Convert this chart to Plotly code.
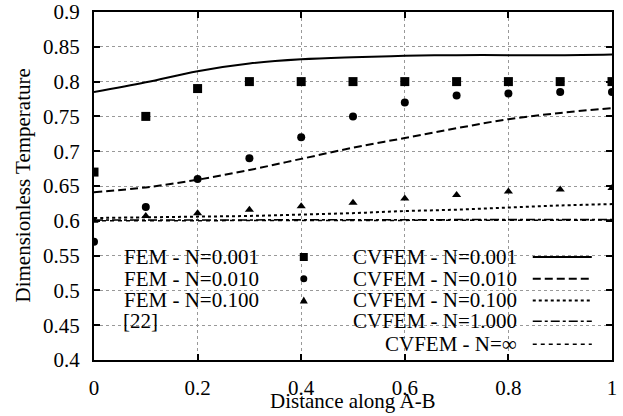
import plotly.graph_objects as go

x_fem = [0.0, 0.1, 0.2, 0.3, 0.4, 0.5, 0.6, 0.7, 0.8, 0.9, 1.0]
fem_0001 = [0.67, 0.75, 0.79, 0.80, 0.80, 0.80, 0.80, 0.80, 0.80, 0.80, 0.80]
fem_0010 = [0.57, 0.62, 0.66, 0.69, 0.72, 0.75, 0.77, 0.780, 0.783, 0.785, 0.785]
fem_0100 = [0.60, 0.607, 0.611, 0.616, 0.621, 0.626, 0.632, 0.637, 0.642, 0.645, 0.647]

x_cv = [0.0, 0.1, 0.2, 0.3, 0.4, 0.5, 0.6, 0.7, 0.8, 0.9, 1.0]
cv_0001 = [0.785, 0.799, 0.815, 0.826, 0.832, 0.835, 0.837, 0.838, 0.838, 0.838, 0.839]
cv_0010 = [0.641, 0.648, 0.659, 0.673, 0.689, 0.705, 0.719, 0.733, 0.746, 0.755, 0.762]
cv_0100 = [0.604, 0.605, 0.606, 0.607, 0.609, 0.611, 0.614, 0.616, 0.619, 0.622, 0.624]
cv_1000 = [0.601, 0.601, 0.601, 0.601, 0.601, 0.602, 0.602, 0.602, 0.602, 0.602, 0.602]
cv_inf = [0.600, 0.600, 0.600, 0.600, 0.601, 0.601, 0.601, 0.601, 0.601, 0.601, 0.601]

x_ticks = [0, 0.2, 0.4, 0.6, 0.8, 1.0]
x_ticktext = ["0", "0.2", "0.4", "0.6", "0.8", "1"]
y_ticks = [0.4, 0.45, 0.5, 0.55, 0.6, 0.65, 0.7, 0.75, 0.8, 0.85, 0.9]
y_ticktext = ["0.4", "0.45", "0.5", "0.55", "0.6", "0.65", "0.7", "0.75", "0.8", "0.85", "0.9"]

x_title = "Distance along A-B"
y_title = "Dimensionless Temperature"

FONT = "Liberation Serif"
FS = 21
fig = go.Figure()

fig.add_trace(go.Scatter(x=x_cv, y=cv_inf, mode="lines",
                         line=dict(color="black", width=1.5, dash="4px,4px")))
fig.add_trace(go.Scatter(x=x_cv, y=cv_1000, mode="lines",
                         line=dict(color="black", width=1.5, dash="dashdot")))
fig.add_trace(go.Scatter(x=x_cv, y=cv_0100, mode="lines", line_shape="spline",
                         line=dict(color="black", width=2, dash="dot")))
fig.add_trace(go.Scatter(x=x_cv, y=cv_0010, mode="lines", line_shape="spline",
                         line=dict(color="black", width=2, dash="8px,4px")))
fig.add_trace(go.Scatter(x=x_cv, y=cv_0001, mode="lines", line_shape="spline",
                         line=dict(color="black", width=2)))

fig.add_trace(go.Scatter(x=x_fem, y=fem_0001, mode="markers",
                         marker=dict(symbol="square", size=9, color="black")))
fig.add_trace(go.Scatter(x=x_fem, y=fem_0010, mode="markers",
                         marker=dict(symbol="circle", size=8, color="black")))
fig.add_trace(go.Scatter(x=x_fem, y=fem_0100, mode="markers",
                         marker=dict(symbol="triangle-up", size=8, color="black")))

# Legend (gnuplot style: right-aligned text, sample to the right)
left_labels = ["FEM - N=0.001", "FEM - N=0.010", "FEM - N=0.100"]
right_labels = ["CVFEM - N=0.001", "CVFEM - N=0.010", "CVFEM - N=0.100",
                "CVFEM - N=1.000", "CVFEM - N=\u221e"]
row_y = [0.548, 0.5168, 0.4855, 0.4556, 0.4228]
right_dashes = ["solid", "8px,4px", "dot", "dashdot", "4px,4px"]
right_widths = [2, 2, 2, 1.5, 1.5]

for i, t in enumerate(left_labels):
    fig.add_annotation(x=0.320, y=row_y[i], text=t, showarrow=False, xanchor="right",
                       yanchor="middle", borderpad=0,
                       font=dict(family=FONT, size=FS, color="black"))
fig.add_annotation(x=0.055, y=row_y[3], text="[22]", showarrow=False, xanchor="left",
                   yanchor="middle", borderpad=0,
                   font=dict(family=FONT, size=FS, color="black"))
for i, t in enumerate(right_labels):
    fig.add_annotation(x=0.818, y=row_y[i], text=t, showarrow=False, xanchor="right",
                       yanchor="middle", borderpad=0,
                       font=dict(family=FONT, size=FS, color="black"))
    fig.add_shape(type="line", x0=0.847, x1=0.961, y0=row_y[i], y1=row_y[i],
                  line=dict(color="black", width=right_widths[i], dash=right_dashes[i]))

mx = 0.405
fig.add_shape(type="rect", xsizemode="pixel", ysizemode="pixel", xanchor=mx, yanchor=row_y[0],
              x0=-4, x1=4, y0=-4, y1=4, fillcolor="black", line=dict(width=0))
fig.add_shape(type="circle", xsizemode="pixel", ysizemode="pixel", xanchor=mx, yanchor=row_y[1],
              x0=-3.5, x1=3.5, y0=-3.5, y1=3.5, fillcolor="black", line=dict(width=0))
fig.add_shape(type="path", xsizemode="pixel", ysizemode="pixel", xanchor=mx, yanchor=row_y[2],
              path="M -4,-3 L 4,-3 L 0,4 Z", fillcolor="black", line=dict(width=0))

# Axis titles placed as annotations for exact positioning
fig.add_annotation(xref="paper", yref="paper", x=0.5, y=-0.118, text=x_title,
                   showarrow=False, xanchor="center", yanchor="middle", borderpad=0,
                   font=dict(family=FONT, size=FS, color="black"))
fig.add_annotation(xref="paper", yref="paper", x=-0.138, y=0.5, text=y_title,
                   showarrow=False, xanchor="center", yanchor="middle", borderpad=0,
                   textangle=-90, font=dict(family=FONT, size=FS, color="black"))

axis_common = dict(showline=True, linecolor="black", linewidth=2, mirror="allticks",
                   ticks="inside", ticklen=6, tickcolor="black", tickwidth=1.5,
                   showgrid=True, gridcolor="#999999", gridwidth=1, griddash="dot",
                   zeroline=False, automargin=False, ticklabeloverflow="allow",
                   tickfont=dict(family=FONT, size=FS, color="black"))

fig.update_xaxes(range=[0, 1], tickvals=x_ticks, ticktext=x_ticktext,
                 ticklabelstandoff=8, **axis_common)
fig.update_yaxes(range=[0.4, 0.9], tickvals=y_ticks, ticktext=y_ticktext,
                 ticklabelstandoff=8, **axis_common)

fig.update_layout(width=623, height=416, showlegend=False,
                  margin=dict(l=94, r=11, t=12, b=56),
                  plot_bgcolor="white", paper_bgcolor="white")

fig.write_html("out.html")
